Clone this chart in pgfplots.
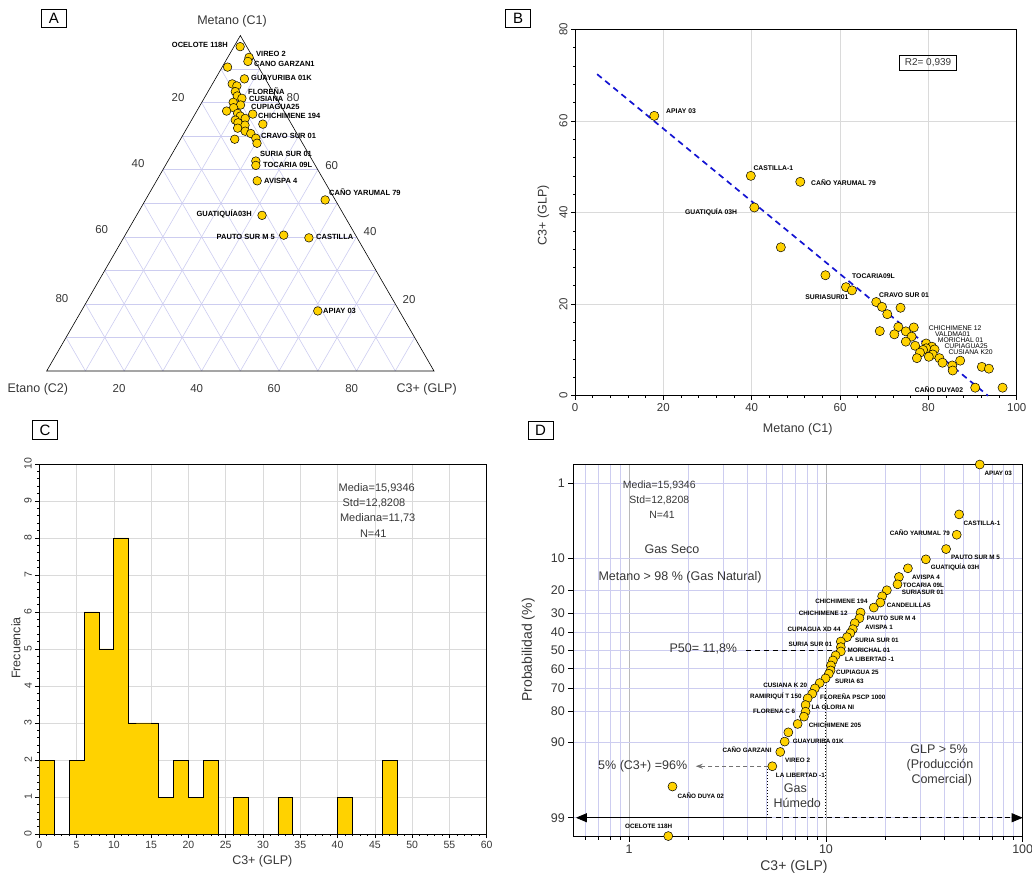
\documentclass[border=0pt]{standalone}
\usepackage{fontspec}
\setmainfont{Liberation Sans}
\usepackage{pgfplots}
\usepackage{pgfplotstable}
\pgfplotsset{compat=1.18}
\usetikzlibrary{arrows.meta}
\definecolor{gold}{RGB}{255,210,0}
\definecolor{lav}{RGB}{205,205,240}
\definecolor{lgrid}{RGB}{218,218,218}
\definecolor{txt}{RGB}{55,55,55}
\definecolor{regblue}{RGB}{20,20,210}
\newcommand\ptlA{\fontsize{7.5}{8}\selectfont\bfseries}
\newcommand\ptlB{\fontsize{6.8}{7.5}\selectfont\bfseries}
\newcommand\ptlBr{\fontsize{6.8}{7.5}\selectfont}
\newcommand\ptlD{\fontsize{6.3}{7}\selectfont\bfseries}
\newcommand\W[4]{\node[anchor=west,inner sep=0pt,font=#1,text=black] at (#2pt,875pt-#3pt) {#4};}
\newcommand\E[4]{\node[anchor=east,inner sep=0pt,font=#1,text=black] at (#2pt,875pt-#3pt) {#4};}
\newcommand\T[4]{\node[inner sep=0pt,font=#1,text=txt] at (#2pt,875pt-#3pt) {#4};}
\newcommand\fA{\fontsize{11.5}{13}\selectfont}
\newcommand\fL{\fontsize{12.5}{14}\selectfont}
\newcommand\fS{\fontsize{11}{13}\selectfont}

\pgfplotstableread{
c1 c3
96.7 1.6
93.5 5.5
92.3 5.8
90.6 1.4
87.1 7.5
85.6 5.1
85.0 6.6
83.3 7.05
82.0 8.2
81.3 9.75
80.1 8.1
79.3 10.4
78.5 9.0
77.5 7.7
76.8 10.9
76.6 14.9
76.0 12.0
75.3 13.6
74.8 11.3
74.0 12.4
73.3 14.55
72.4 13.1
73.6 19.0
71.5 15.5
70.8 17.3
69.4 19.3
67.9 20.35
69.1 14.0
62.6 22.7
61.3 23.35
56.7 26.0
51.0 46.4
46.4 32.4
40.5 40.95
39.7 47.85
17.9 61.05
}\terndata

\pgfplotstableread{
x y
17.95 61.1
39.8 48.0
51.0 46.7
40.6 41.1
46.6 32.4
56.7 26.3
61.35 23.7
62.7 23.0
68.2 20.45
69.5 19.4
73.7 19.2
70.7 17.8
69.0 14.1
73.2 15.0
76.7 14.9
72.3 13.4
74.9 14.05
76.2 12.9
74.9 11.8
77.0 10.9
79.5 11.4
80.8 10.7
79.5 10.35
81.4 10.1
78.8 10.0
78.1 9.4
81.0 9.0
77.4 8.2
80.1 8.5
82.5 8.2
83.2 7.2
87.2 7.65
85.4 6.6
85.5 5.5
92.1 6.3
93.7 5.9
90.6 1.75
96.8 1.75
}\scatdata

\pgfplotstableread{
x z
60.5 -2.587
47.5 -1.893
46.2 -1.610
40.8 -1.411
32.2 -1.268
26.1 -1.143
23.5 -1.023
23.1 -0.921
20.4 -0.838
19.3 -0.755
18.9 -0.667
17.5 -0.597
15.0 -0.528
14.8 -0.449
14.0 -0.380
13.7 -0.297
13.3 -0.241
12.8 -0.186
11.9 -0.125
11.9 -0.047
11.9 0.013
11.2 0.069
10.85 0.138
10.6 0.208
10.56 0.277
10.35 0.323
9.95 0.388
9.29 0.453
8.79 0.527
8.52 0.601
8.07 0.666
7.88 0.758
7.88 0.851
7.73 0.920
7.18 1.022
6.44 1.138
6.17 1.267
5.86 1.411
5.34 1.610
1.66 1.892
1.58 2.581
}\probdata

\begin{document}
\begin{tikzpicture}
\useasboundingbox (0pt,0pt) rectangle (1032pt,875pt);

% ---------------- Panel A: ternary ----------------
\begin{axis}[at={(46.7pt,504pt)}, anchor=south west, scale only axis,
  width=387.3pt, height=335.4pt, xmin=0, xmax=100, ymin=0, ymax=86.6025,
  hide axis, clip=false]
\begin{scope}[draw=lav, line width=0.6pt]
\draw (axis cs:5,8.660) -- (axis cs:95,8.660);
\draw (axis cs:10,17.321) -- (axis cs:90,17.321);
\draw (axis cs:15,25.981) -- (axis cs:85,25.981);
\draw (axis cs:20,34.641) -- (axis cs:80,34.641);
\draw (axis cs:25,43.301) -- (axis cs:75,43.301);
\draw (axis cs:30,51.962) -- (axis cs:70,51.962);
\draw (axis cs:35,60.622) -- (axis cs:65,60.622);
\draw (axis cs:40,69.282) -- (axis cs:60,69.282);
\draw (axis cs:45,77.942) -- (axis cs:55,77.942);
\draw (axis cs:10,0) -- (axis cs:55,77.942);
\draw (axis cs:20,0) -- (axis cs:60,69.282);
\draw (axis cs:30,0) -- (axis cs:65,60.622);
\draw (axis cs:40,0) -- (axis cs:70,51.962);
\draw (axis cs:50,0) -- (axis cs:75,43.301);
\draw (axis cs:60,0) -- (axis cs:80,34.641);
\draw (axis cs:70,0) -- (axis cs:85,25.981);
\draw (axis cs:80,0) -- (axis cs:90,17.321);
\draw (axis cs:90,0) -- (axis cs:95,8.660);
\draw (axis cs:90,0) -- (axis cs:45,77.942);
\draw (axis cs:80,0) -- (axis cs:40,69.282);
\draw (axis cs:70,0) -- (axis cs:35,60.622);
\draw (axis cs:60,0) -- (axis cs:30,51.962);
\draw (axis cs:50,0) -- (axis cs:25,43.301);
\draw (axis cs:40,0) -- (axis cs:20,34.641);
\draw (axis cs:30,0) -- (axis cs:15,25.981);
\draw (axis cs:20,0) -- (axis cs:10,17.321);
\draw (axis cs:10,0) -- (axis cs:5,8.660);
\end{scope}
\draw[black, line width=0.6pt] (axis cs:0,0) -- (axis cs:100,0) -- (axis cs:50,86.6025) -- cycle;
\addplot[only marks, mark=*, mark size=4.3pt,
  mark options={fill=gold, draw=black, line width=0.5pt}]
  table[x expr=\thisrow{c3}+0.5*\thisrow{c1}, y expr=0.8660254*\thisrow{c1}] {\terndata};
\end{axis}

% ---------------- Panel B: scatter ----------------
\begin{axis}[at={(575pt,479.3pt)}, anchor=south west, scale only axis,
  width=441.7pt, height=366.4pt, xmin=0, xmax=100, ymin=0, ymax=80,
  xtick={0,20,...,100}, ytick={0,20,...,80}, minor tick num=4,
  tick pos=left, tick align=outside, major tick length=4pt, minor tick length=2pt,
  grid=major, major grid style={draw=lgrid, line width=0.6pt},
  axis line style={line width=0.8pt}, tick style={black, line width=0.6pt},
  /pgf/number format/assume math mode=true,
  ticklabel style={font=\fontsize{11.5}{13}\selectfont, text=txt},
  yticklabel style={rotate=90, anchor=south}, clip=false]
\addplot[regblue, line width=1.7pt, dash pattern=on 6pt off 4.5pt] coordinates {(5,70.2) (93.5,0)};
\addplot[only marks, mark=*, mark size=4.6pt,
  mark options={fill=gold, draw=black, line width=0.5pt}] table[x=x, y=y] {\scatdata};
\end{axis}

% ---------------- Panel C: histogram ----------------
\begin{axis}[at={(39.3pt,41pt)}, anchor=south west, scale only axis,
  width=447.4pt, height=370pt, xmin=0, xmax=60, ymin=0, ymax=10,
  xtick={0,5,...,60}, ytick={0,1,...,10}, minor x tick num=4, minor y tick num=4,
  tick pos=left, tick align=outside, major tick length=4pt, minor tick length=2pt,
  grid=major, major grid style={draw=lgrid, line width=0.6pt},
  axis line style={line width=0.8pt}, tick style={black, line width=0.6pt},
  /pgf/number format/assume math mode=true,
  ticklabel style={font=\fontsize{10.5}{12}\selectfont, text=txt},
  yticklabel style={rotate=90, anchor=south}]
\addplot[const plot, fill=gold, draw=black, line width=0.8pt] coordinates {
 (0,2) (2,0) (4,2) (6,6) (8,5) (10,8) (12,3) (14,3) (16,1) (18,2) (20,1) (22,2)
 (24,0) (26,1) (28,0) (32,1) (34,0) (40,1) (42,0) (46,2) (48,0) (60,1) (62,1)} \closedcycle;
\end{axis}

% ---------------- Panel D: probability plot ----------------
\begin{axis}[at={(573.3pt,38.3pt)}, anchor=south west, scale only axis,
  width=449.4pt, height=372.4pt, xmode=log, xmin=0.52, xmax=100,
  ymin=-2.59, ymax=2.59, y dir=reverse,
  xtick={1,10,100}, xticklabels={1,10,100},
  minor xtick={0.6,0.7,0.8,0.9,2,3,4,5,6,7,8,9,20,30,40,50,60,70,80,90},
  ytick={-2.3263,-1.2816,-0.8416,-0.5244,-0.2533,0,0.2533,0.5244,0.8416,1.2816,2.3263},
  yticklabels={1,10,20,30,40,50,60,70,80,90,99},
  tick pos=left, tick align=outside, major tick length=5pt, minor tick length=3pt,
  xmajorgrids, xminorgrids, ymajorgrids,
  major x grid style={draw=black!28, line width=0.6pt},
  minor x grid style={draw=lav, line width=0.6pt},
  major y grid style={draw=lav, line width=0.6pt},
  axis line style={line width=0.8pt}, tick style={black, line width=0.6pt},
  /pgf/number format/assume math mode=true,
  ticklabel style={font=\fontsize{12.5}{14}\selectfont, text=txt},
  clip=false]
\draw[black, line width=1pt, dash pattern=on 5pt off 4pt] (axis cs:3.91,0) -- (axis cs:11.8,0);
\draw[black, line width=1pt, dash pattern=on 1.2pt off 1.8pt] (axis cs:10,0.40) -- (axis cs:10,2.3263);
\draw[black, line width=1pt, dash pattern=on 1.2pt off 1.8pt] (axis cs:5.04,1.65) -- (axis cs:5.04,2.3263);
\draw[black!55, line width=0.7pt, dash pattern=on 4pt off 3pt, -{Stealth[length=7pt,width=5pt]}] (axis cs:5.1,1.61) -- (axis cs:2.18,1.61);
\draw[black, line width=0.8pt, {Triangle[length=11pt,width=9pt]}-] (axis cs:0.536,2.3263) -- (axis cs:5.04,2.3263);
\draw[black, line width=0.8pt, dash pattern=on 5pt off 3.5pt, -{Triangle[length=11pt,width=9pt]}] (axis cs:5.04,2.3263) -- (axis cs:100,2.3263);
\addplot[only marks, mark=*, mark size=4.5pt,
  mark options={fill=gold, draw=black, line width=0.5pt}] table[x=x, y=z] {\probdata};
\end{axis}

% ---------------- Panel labels ----------------
\foreach \lab/\cx/\cy in {A/53.8/18.7, B/518/18.7, C/45/430, D/540.5/430.5}{
  \node[draw, line width=0.9pt, minimum width=25pt, minimum height=18.5pt, inner sep=0pt,
    font=\fontsize{15}{15}\selectfont] at (\cx pt,875pt-\cy pt) {\lab};
}

% ---------------- Panel A texts ----------------
\T{\fL}{232}{21.7}{Metano (C1)}
\node[anchor=east,inner sep=0pt,font=\fL,text=txt] at (68.3pt,875pt-389pt) {Etano (C2)};
\T{\fL}{426.7}{389}{C3+ (GLP)}
\T{\fA}{178}{97.7}{20}
\T{\fA}{138}{164}{40}
\T{\fA}{101.7}{230}{60}
\T{\fA}{62}{299}{80}
\T{\fA}{293}{98}{80}
\T{\fA}{331.7}{165.7}{60}
\T{\fA}{370}{231.7}{40}
\T{\fA}{409}{300}{20}
\T{\fA}{119}{389}{20}
\T{\fA}{196.7}{389}{40}
\T{\fA}{274}{389}{60}
\T{\fA}{351.7}{389}{80}
\E{\ptlA}{228}{45.3}{OCELOTE 118H}
\W{\ptlA}{256}{54}{VIREO 2}
\W{\ptlA}{254}{64}{CANO GARZAN1}
\W{\ptlA}{251}{78}{GUAYURIBA 01K}
\W{\ptlA}{248}{91}{FLOREÑA}
\W{\ptlA}{249}{98.7}{CUSIANA}
\W{\ptlA}{251}{106.7}{CUPIAGUA25}
\W{\ptlA}{258}{115.7}{CHICHIMENE 194}
\W{\ptlA}{261}{135.7}{CRAVO SUR 01}
\W{\ptlA}{260}{153.7}{SURIA SUR 01}
\W{\ptlA}{263}{165}{TOCARIA 09L}
\W{\ptlA}{264}{181}{AVISPA 4}
\W{\ptlA}{329}{192}{CAÑO YARUMAL 79}
\E{\ptlA}{252}{214}{GUATIQUÍA03H}
\E{\ptlA}{275}{237}{PAUTO SUR M 5}
\W{\ptlA}{316}{237}{CASTILLA}
\W{\ptlA}{323}{311}{APIAY 03}

% ---------------- Panel B texts ----------------
\T{\fL}{797.7}{429.3}{Metano (C1)}
\node[rotate=90,inner sep=0pt,font=\fL,text=txt] at (543.3pt,875pt-215pt) {C3+ (GLP)};
\node[draw, line width=0.9pt, minimum width=57.7pt, minimum height=15.7pt, inner sep=0pt,
  font=\fontsize{10}{12}\selectfont, text=txt] at (928pt,875pt-63pt) {R2= 0,939};
\W{\ptlB}{666}{111}{APIAY 03}
\W{\ptlB}{753.3}{167.7}{CASTILLA-1}
\W{\ptlB}{811}{182.3}{CAÑO YARUMAL 79}
\E{\ptlB}{737.3}{212.3}{GUATIQUÍA 03H}
\W{\ptlB}{852}{276}{TOCARIA09L}
\E{\ptlB}{848.7}{296.7}{SURIASUR01}
\W{\ptlB}{879}{295}{CRAVO SUR 01}
\W{\ptlBr}{928.7}{327.7}{CHICHIMENE 12}
\W{\ptlBr}{935}{333.7}{VALDMA01}
\W{\ptlBr}{937.7}{339.7}{MORICHAL 01}
\W{\ptlBr}{944.3}{346}{CUPIAGUA25}
\W{\ptlBr}{948.3}{351.7}{CUSIANA K20}
\W{\ptlB}{914.7}{389.3}{CAÑO DUYA02}

% ---------------- Panel C texts ----------------
\T{\fL}{262.3}{861.7}{C3+ (GLP)}
\node[rotate=90,inner sep=0pt,font=\fL,text=txt] at (16pt,875pt-648pt) {Frecuencia};
\T{\fS}{376.7}{488.3}{Media=15,9346}
\T{\fS}{374}{503.3}{Std=12,8208}
\T{\fS}{377.7}{518.3}{Mediana=11,73}
\T{\fS}{373.3}{533.3}{N=41}

% ---------------- Panel D texts ----------------
\T{\fontsize{14}{16}\selectfont}{794}{866.7}{C3+ (GLP)}
\node[rotate=90,inner sep=0pt,font=\fontsize{14}{16}\selectfont,text=txt] at (528.3pt,875pt-650pt) {Probabilidad (\%)};
\T{\fontsize{10.5}{12}\selectfont}{659.3}{485}{Media=15,9346}
\T{\fontsize{10.5}{12}\selectfont}{659.3}{500}{Std=12,8208}
\T{\fontsize{10.5}{12}\selectfont}{662}{515}{N=41}
\T{\fL}{672}{549.3}{Gas Seco}
\T{\fL}{680}{577}{Metano > 98 \% (Gas Natural)}
\T{\fL}{703.3}{649.3}{P50= 11,8\%}
\T{\fL}{642.7}{766.7}{5\% (C3+) =96\%}
\T{\fL}{795.3}{788.3}{Gas}
\T{\fL}{797.3}{803.3}{Húmedo}
\T{\fL}{939}{749.3}{GLP > 5\%}
\T{\fL}{940}{765}{(Producción}
\T{\fL}{941.7}{780}{Comercial)}
\W{\ptlD}{984.3}{473.3}{APIAY 03}
\W{\ptlD}{963.3}{523.3}{CASTILLA-1}
\E{\ptlD}{950}{532.7}{CAÑO YARUMAL 79}
\W{\ptlD}{951}{557.7}{PAUTO SUR M 5}
\W{\ptlD}{930.7}{567.7}{GUATIQUÍA 03H}
\W{\ptlD}{912}{577}{AVISPA 4}
\W{\ptlD}{902.7}{585.3}{TOCARIA 09L}
\W{\ptlD}{901.7}{592.7}{SURIASUR 01}
\W{\ptlD}{886.7}{605}{CANDELILLA5}
\E{\ptlD}{867.7}{601.3}{CHICHIMENE 194}
\E{\ptlD}{847.7}{613.3}{CHICHIMENE 12}
\W{\ptlD}{866.7}{618.7}{PAUTO SUR M 4}
\W{\ptlD}{865}{627.3}{AVISPA 1}
\E{\ptlD}{840.7}{629}{CUPIAGUA XD 44}
\W{\ptlD}{855}{640.7}{SURIA SUR 01}
\E{\ptlD}{832.3}{644.7}{SURIA SUR 01}
\W{\ptlD}{847.3}{650}{MORICHAL 01}
\W{\ptlD}{845}{659}{LA LIBERTAD -1}
\W{\ptlD}{836}{672.7}{CUPIAGUA 25}
\W{\ptlD}{835}{681.3}{SURIA 63}
\E{\ptlD}{807.3}{685}{CUSIANA K 20}
\E{\ptlD}{801.7}{696.3}{RAMIRIQUÍ T 150}
\W{\ptlD}{820}{696.7}{FLOREÑA PSCP 1000}
\W{\ptlD}{811.3}{707}{LA GLORIA NI}
\E{\ptlD}{795.3}{711.7}{FLORENA C 6}
\W{\ptlD}{808.7}{725}{CHICHIMENE 205}
\W{\ptlD}{792.7}{741.7}{GUAYURIBA 01K}
\E{\ptlD}{771.7}{750}{CAÑO GARZANI}
\W{\ptlD}{785}{760.7}{VIREO 2}
\W{\ptlD}{775.7}{775.3}{LA LIBERTAD -1}
\W{\ptlD}{677.3}{795.7}{CAÑO DUYA 02}
\W{\ptlD}{625}{826.7}{OCELOTE 118H}
\end{tikzpicture}
\end{document}
